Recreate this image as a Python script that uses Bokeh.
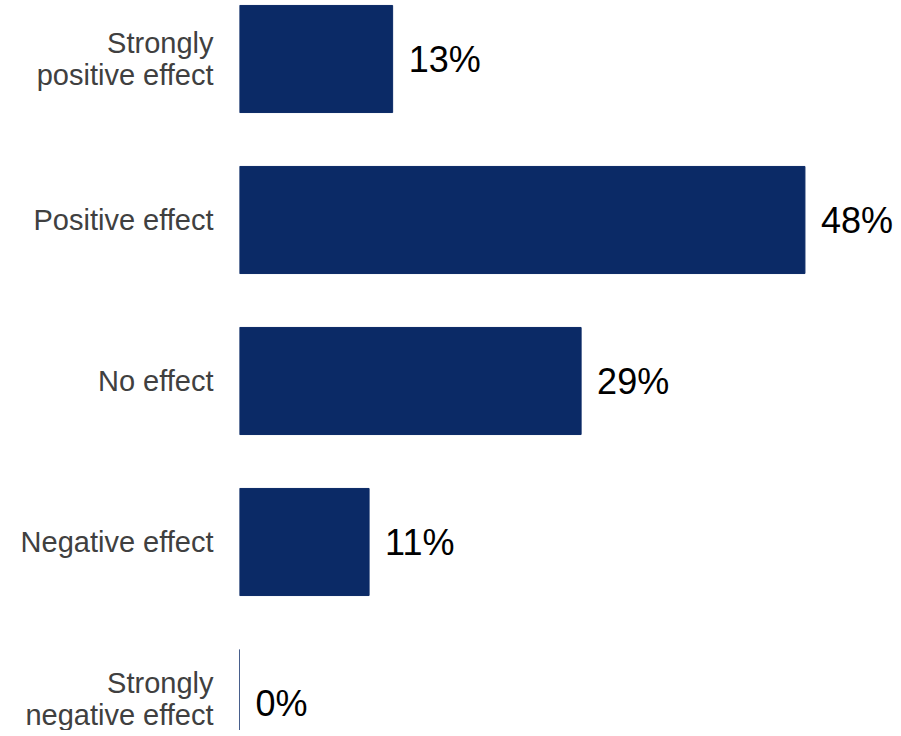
from bokeh.plotting import figure
from bokeh.models import Range1d, FixedTicker, ColumnDataSource
from bokeh.embed import file_html
from bokeh.resources import INLINE
from bokeh.core.properties import value

categories = ["Strongly\npositive effect", "Positive effect", "No effect",
              "Negative effect", "Strongly\nnegative effect"]
values = [13, 48, 29, 11, 0]
value_labels = ["13%", "48%", "29%", "11%", "0%"]

n = len(categories)
ypos = [n - 1 - i for i in range(n)]

NAVY = "#0b2a66"

W, H = 895, 730
LEFT = 239
PX_PER_UNIT = 11.78
CENTER0, STEP = 58.5, 161.0

x_end = (W - LEFT) / PX_PER_UNIT
top = (n - 1) + CENTER0 / STEP
bottom = (n - 1) - (H - CENTER0) / STEP

src = ColumnDataSource(dict(y=ypos, v=values, lbl=value_labels))

p = figure(width=W, height=H, output_backend="svg", toolbar_location=None,
           x_range=Range1d(0, x_end), y_range=Range1d(bottom, top),
           min_border_left=LEFT, min_border_right=0, min_border_top=0,
           min_border_bottom=0)

p.hbar(y="y", left=0, right="v", height=0.665, source=src,
       fill_color=NAVY, line_color=NAVY, line_width=1)

p.text(x="v", y="y", text="lbl", source=src, x_offset=16,
       text_align="left", text_baseline="middle",
       text_font=value("Liberation Sans"), text_font_size="36px",
       text_color="#000000")

p.xaxis.visible = False
p.grid.visible = False
p.outline_line_color = None

ax = p.yaxis[0]
ax.ticker = FixedTicker(ticks=ypos)
ax.major_label_overrides = {y: c for y, c in zip(ypos, categories)}
ax.axis_line_color = None
ax.major_tick_line_color = None
ax.minor_tick_line_color = None
ax.major_tick_in = 0
ax.major_tick_out = 0
ax.major_label_standoff = 26
ax.major_label_text_font = "Liberation Sans"
ax.major_label_text_font_size = "29px"
ax.major_label_text_color = "#404040"
ax.major_label_text_line_height = 1.0

p.background_fill_color = "white"
p.border_fill_color = "white"

open("out.html", "w").write(file_html(p, INLINE))
